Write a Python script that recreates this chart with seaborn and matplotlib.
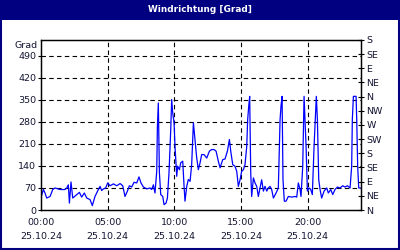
import matplotlib
matplotlib.use("Agg")
import matplotlib.pyplot as plt
from matplotlib.patches import Rectangle
import seaborn as sns
import pandas as pd

# ---- data (time in hours since 00:00, wind direction in degrees) ----
hours = [0.00, 0.18, 0.30, 0.43, 0.68, 0.88, 1.05, 1.43, 1.80, 1.93, 2.05, 2.13, 2.25, 2.38,
         2.68, 2.88, 3.05, 3.25, 3.43, 3.68, 3.85, 4.05, 4.30, 4.43, 4.55, 4.68, 4.85, 5.00,
         5.18, 5.43, 5.68, 5.93, 6.13, 6.30, 6.48, 6.63, 6.80, 6.98, 7.18, 7.35, 7.50, 7.68,
         7.93, 8.18, 8.30, 8.43, 8.55, 8.68, 8.73, 8.80, 8.88, 8.98, 9.13, 9.23, 9.38, 9.48,
         9.60, 9.73, 9.80, 9.88, 9.98, 10.05, 10.18, 10.25, 10.38, 10.48, 10.63, 10.73, 10.80,
         10.93, 11.05, 11.18, 11.30, 11.43, 11.55, 11.68, 11.80, 11.93, 12.05, 12.23, 12.43,
         12.63, 12.80, 12.98, 13.13, 13.30, 13.43, 13.63, 13.80, 13.98, 14.13, 14.23, 14.38,
         14.55, 14.68, 14.80, 14.93, 15.05, 15.18, 15.30, 15.43, 15.50, 15.58, 15.65, 15.73,
         15.80, 15.93, 16.05, 16.18, 16.30, 16.43, 16.55, 16.68, 16.80, 16.93, 17.05, 17.18,
         17.30, 17.43, 17.63, 17.80, 17.93, 18.00, 18.08, 18.15, 18.25, 18.38, 18.55, 18.80,
         19.05, 19.18, 19.30, 19.43, 19.50, 19.63, 19.73, 19.80, 19.88, 19.98, 20.10, 20.23,
         20.35, 20.48, 20.58, 20.65, 20.73, 20.83, 20.93, 21.05, 21.23, 21.43, 21.55, 21.73,
         21.88, 22.05, 22.23, 22.43, 22.63, 22.80, 22.98, 23.18, 23.30, 23.35, 23.43, 23.63,
         23.68, 23.75, 23.83, 23.95]
direction = [40, 65, 54, 38, 43, 65, 70, 65, 65, 70, 80, 22, 89, 38,
             49, 56, 41, 54, 38, 33, 14, 43, 65, 75, 62, 67, 70, 86,
             77, 83, 77, 84, 77, 43, 60, 77, 73, 88, 86, 105, 86, 73,
             67, 70, 65, 80, 54, 123, 266, 340, 118, 49, 43, 17, 22, 38,
             118, 255, 351, 308, 277, 202, 107, 139, 128, 150, 155, 75, 28,
             75, 97, 91, 144, 277, 224, 165, 128, 150, 176, 176, 165,
             187, 192, 192, 187, 155, 134, 160, 162, 187, 224, 187, 144,
             139, 123, 75, 96, 123, 128, 144, 202, 287, 330, 361, 118,
             43, 102, 86, 75, 43, 70, 96, 60, 75, 60, 70, 75,
             65, 38, 54, 70, 287, 330, 361, 96, 28, 28, 43, 41,
             43, 41, 86, 65, 43, 139, 361, 287, 202, 60, 70, 65,
             49, 202, 298, 361, 287, 96, 65, 38, 60, 70, 54, 65,
             49, 65, 73, 70, 77, 73, 77, 70, 139, 287, 361, 361,
             287, 139, 70, 70]

left_ticks = [0, 70, 140, 210, 280, 350, 420, 490]
compass_ticks = [0, 45, 90, 135, 180, 225, 270, 315, 360, 405, 450, 495, 540]
compass_labels = ["N", "NE", "E", "SE", "S", "SW", "W", "NW", "N", "NE", "E", "SE", "S"]
hour_ticks = [0, 5, 10, 15, 20]
hour_labels = ["00:00", "05:00", "10:00", "15:00", "20:00"]
date_label = "25.10.24"
title = "Windrichtung [Grad]"
unit = "Grad"

df = pd.DataFrame({"hours": hours, "direction": direction})

sns.set_style("white")
plt.rcParams["font.family"] = ["DejaVu Sans"]

NAVY = "#000080"
TXT = "#141432"

fig = plt.figure(figsize=(4, 2.5), dpi=100)
fig.patch.set_facecolor("white")
ax = fig.add_axes([41 / 400, 1 - 210 / 250, 320 / 400, 170 / 250])

sns.lineplot(data=df, x="hours", y="direction", ax=ax, color="#0000FF",
             linewidth=0.9, estimator=None, sort=False)

ax.set_xlim(0, 24)
ax.set_ylim(0, 540)
ax.set_xlabel("")
ax.set_ylabel("")

ax.set_xticks(hour_ticks)
ax.set_xticklabels([f"{h}\n{date_label}" for h in hour_labels], linespacing=1.65,
                   fontsize=6.8, color=TXT)
ax.set_xticks(range(0, 25), minor=True)
ax.tick_params(axis="x", which="both", direction="out", length=3, width=0.8,
               color="black", pad=3)

ax.set_yticks(left_ticks)
ax.set_yticklabels([str(v) for v in left_ticks], fontsize=6.8, color=TXT)
ax.tick_params(axis="y", which="major", direction="out", length=2, width=0.8,
               color="black", pad=1.5, left=True)

for v in left_ticks[1:]:
    ax.axhline(v, color="black", lw=0.8, ls=(0, (4, 3)), zorder=1)
for h in hour_ticks[1:]:
    ax.axvline(h, color="black", lw=0.8, ls=(0, (4, 3)), zorder=1)

for s in ax.spines.values():
    s.set_color("black")
    s.set_linewidth(0.9)

ax.text(-0.012, 522, unit, transform=ax.get_yaxis_transform(), ha="right",
        va="center", fontsize=6.8, color=TXT)

ax2 = ax.twinx()
ax2.set_ylim(0, 540)
ax2.set_yticks(compass_ticks)
ax2.set_yticklabels(compass_labels, fontsize=6.8, color=TXT)
ax2.tick_params(axis="y", direction="inout", length=4, width=0.8, color="black", pad=2)
for s in ax2.spines.values():
    s.set_color("black")
    s.set_linewidth(0.9)

# title bar and outer frame
fig.patches.append(Rectangle((0, 1 - 20 / 250), 1, 20 / 250, transform=fig.transFigure,
                             facecolor=NAVY, edgecolor="none", zorder=0))
fig.patches.append(Rectangle((0.002, 0.003), 0.996, 0.994, transform=fig.transFigure,
                             facecolor="none", edgecolor=NAVY, linewidth=1.5, zorder=5))
fig.text(0.5, 1 - 9.5 / 250, title, ha="center", va="center", color="white",
         fontsize=6.4, fontweight="bold")

fig.savefig("out.png", dpi=100)
